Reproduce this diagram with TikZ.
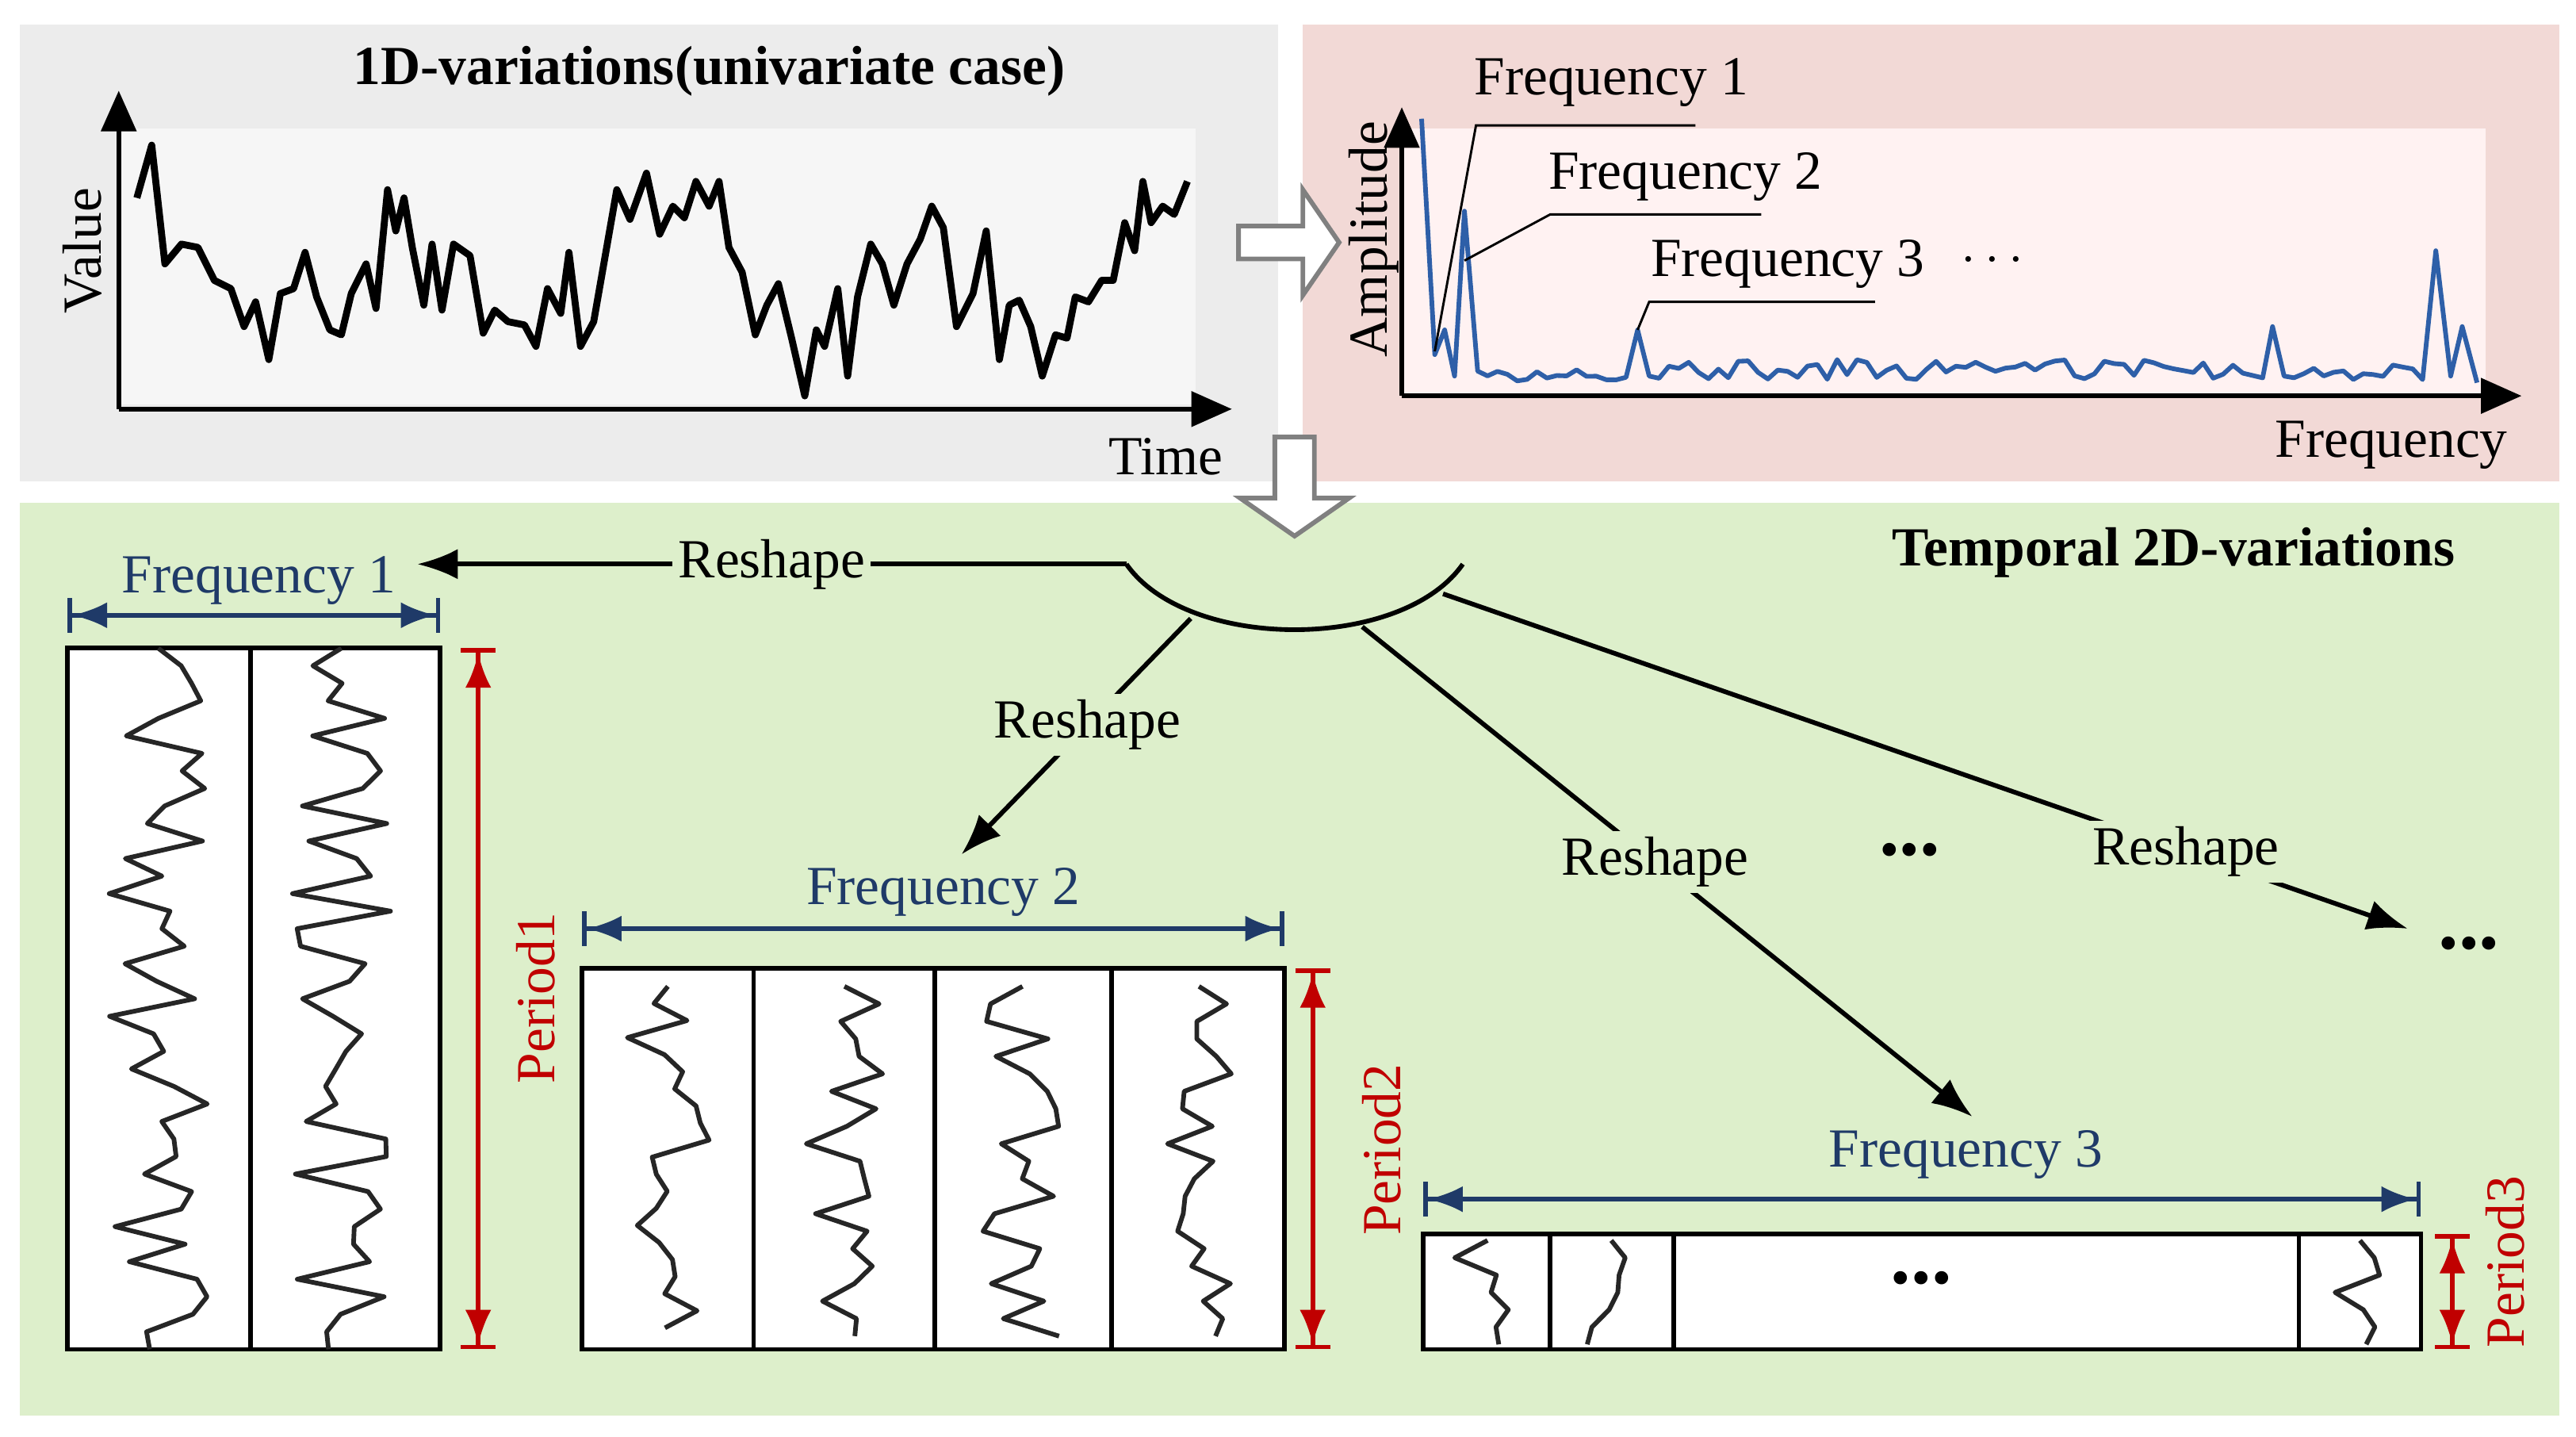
\documentclass[tikz,border=0pt]{standalone}
\usepackage{fontspec}
\setmainfont{Liberation Serif}
\usetikzlibrary{arrows.meta}
\definecolor{navy}{HTML}{1F3A68}
\definecolor{dred}{HTML}{C00000}
\definecolor{sblue}{HTML}{2E5FA8}
\definecolor{pinkbg}{HTML}{F2D9D6}
\definecolor{greenbg}{HTML}{DDEFCB}
\tikzset{
	lbl/.style={font=\fontsize{9.5}{11}\selectfont},
	axis/.style={thick,-{Triangle[length=7pt,width=6pt]}},
	sq/.style={black!85,thick,line join=round},
	dim/.style={#1,thick,{Bar[width=6pt]Latex[length=6pt]}-{Latex[length=6pt]Bar[width=6pt]}},
	blk/.style={draw=gray,thick,fill=white,line join=miter}
}
\newcommand{\squig}[5]{\draw[sq] (#1,#3) \foreach \i in {1,...,#5} { -- ({#1+#2*rand},{#3+(#4-#3)/#5*\i}) };}

\begin{document}
\begin{tikzpicture}[x=0.01cm,y=-0.01cm]
\useasboundingbox (0,0) rectangle (1562,871);
\pgfmathsetseed{7}
% panels
\fill[gray!15] (12,15) rectangle (775,292);
\fill[gray!7] (72,78) rectangle (725,245);
\fill[pinkbg] (790,15) rectangle (1552,292);
\fill[red!5] (850,78) rectangle (1507,240);
\fill[greenbg] (12,305) rectangle (1552,858);
% time series
\node[lbl,font=\fontsize{9.5}{11}\bfseries] (ttl) at (430,43) {1D-variations(univariate case)};
\draw[axis] (72,248) -- (72,55);
\draw[axis] (72,248) -- (747,248);
\node[lbl,rotate=90] (val) at (50,152) {Value};
\node[lbl] (time) at (707,277) {Time};
\draw[black,very thick,line join=round] plot coordinates {(83,120) (92,88) (100,160) (110,148) (120,150) (130,170) (140,175) (148,198) (155,183) (163,218) (170,178) (178,175) (185,153) (192,180) (200,200) (207,203) (213,178) (222,160) (228,187) (235,115) (240,140) (245,120) (250,150) (257,185) (262,148) (268,188) (275,148) (285,155) (293,202) (300,188) (308,195) (318,197) (325,210) (332,175) (340,190) (345,153) (352,210) (360,195) (367,155) (374,115) (382,133) (392,105) (400,142) (408,125) (415,132) (422,110) (430,125) (436,110) (442,150) (450,165) (458,203) (465,185) (472,172) (480,205) (488,240) (495,200) (500,210) (508,175) (514,228) (520,180) (528,148) (535,160) (542,185) (550,160) (558,145) (565,125) (572,138) (580,198) (590,178) (598,140) (606,218) (612,185) (618,182) (625,198) (632,228) (640,203) (647,205) (652,180) (660,183) (668,170) (675,170) (682,135) (688,152) (693,110) (698,135) (705,125) (712,130) (720,110)};
% spectrum
\draw[axis] (850,240) -- (850,65);
\draw[axis] (850,240) -- (1529,240);
\node[lbl,rotate=90] (amp) at (833,145) {Amplitude};
\node[lbl] (freq) at (1450,270) {Frequency};
\draw[sblue,thick,line join=round] (862,72) -- (870,215) -- (876,200) -- (882,228) -- (888,128) -- (896,225)
  \foreach \x in {902,908,...,986} { -- (\x,{227+4*rand}) } -- (993,200) -- (1000,228)
  \foreach \x in {1006,1012,...,1372} { -- (\x,{224+6*rand}) } -- (1378,198) -- (1385,228)
  \foreach \x in {1391,1397,...,1469} { -- (\x,{226+5*rand}) } -- (1477,152) -- (1486,228) -- (1493,198) -- (1502,232);
\node[lbl] (f1) at (977,50) {Frequency 1};
\node[lbl] (f2) at (1022,107) {Frequency 2};
\node[lbl] (f3) at (1084,160) {Frequency 3};
\node[lbl] (fd) at (1208,158) {$\cdots$};
\draw (1028,76) -- (895,76) -- (870,213);
\draw (1068,130) -- (940,130) -- (888,158);
\draw (1137,183) -- (1000,183) -- (993,200);
% block arrows
\draw[blk] (751,137) -- (790,137) -- (790,115) -- (812,147) -- (790,179) -- (790,157) -- (751,157) -- cycle;
\draw[blk] (773,265) -- (797,265) -- (797,302) -- (818,302) -- (785,325) -- (752,302) -- (773,302) -- cycle;
% 2D variations
\node[lbl,font=\fontsize{9.5}{11}\bfseries] (t2) at (1318,335) {Temporal 2D-variations};
\draw[thick] (683,342) .. controls (720,395) and (850,395) .. (887,342);
\coordinate (a0) at (683,342);
\coordinate (a1) at (722,375);
\coordinate (a2) at (826,380);
\coordinate (a3) at (875,360);
\coordinate (e0) at (253,342);
\coordinate (e1) at (583,518);
\coordinate (e2) at (1196,677);
\coordinate (e3) at (1460,563);
\draw[thick,-{Latex[length=7pt]}] (a0) -- node[lbl,fill=greenbg,inner sep=1pt,pos=0.5] (r0) {Reshape} (e0);
\draw[thick,-{Latex[length=7pt]}] (a1) -- node[lbl,fill=greenbg,inner sep=1pt,pos=0.45] (r1) {Reshape} (e1);
\draw[thick,-{Latex[length=7pt]}] (a2) -- node[lbl,fill=greenbg,inner sep=1pt,pos=0.48] (r2) {Reshape} (e2);
\draw[thick,-{Latex[length=7pt]}] (a3) -- node[lbl,fill=greenbg,inner sep=1pt,pos=0.77] (r3) {Reshape} (e3);
\node[font=\fontsize{14}{14}\bfseries] (d1) at (1158,515) {...};
\node[font=\fontsize{14}{14}\bfseries] (d2) at (1497,572) {...};
% block 1
\draw[thick,fill=white] (41,393) rectangle (267,818);
\draw[thick] (152,393) -- (152,818);
\squig{96}{30}{393}{818}{40}
\squig{207}{30}{393}{818}{40}
\draw[dim=navy] (41,373) -- (267,373);
\node[lbl,text=navy] (b1f) at (157,352) {Frequency 1};
\draw[dim=dred] (290,393) -- (290,818);
\node[lbl,text=dred,rotate=90] (b1p) at (325,605) {Period1};
% block 2
\draw[thick,fill=white] (353,587) rectangle (779,818);
\foreach \x in {457,567,674} \draw[thick] (\x,587) -- (\x,818);
\squig{405}{25}{598}{805}{20}
\squig{512}{25}{598}{810}{20}
\squig{620}{25}{598}{810}{20}
\squig{727}{22}{598}{810}{20}
\draw[dim=navy] (353,563) -- (779,563);
\node[lbl,text=navy] (b2f) at (572,541) {Frequency 2};
\draw[dim=dred] (796,587) -- (796,818);
\node[lbl,text=dred,rotate=90] (b2p) at (838,697) {Period2};
% block 3
\draw[thick,fill=white] (863,748) rectangle (1468,818);
\foreach \x in {940,1015,1394} \draw[thick] (\x,748) -- (\x,818);
\squig{902}{22}{752}{815}{6}
\squig{977}{18}{752}{815}{6}
\squig{1431}{18}{752}{815}{6}
\node[font=\fontsize{14}{14}\bfseries] (d3) at (1165,775) {...};
\draw[dim=navy] (863,727) -- (1468,727);
\node[lbl,text=navy] (b3f) at (1192,700) {Frequency 3};
\draw[dim=dred] (1487,748) -- (1487,818);
\node[lbl,text=dred,rotate=90] (b3p) at (1519,765) {Period3};
\end{tikzpicture}
\end{document}
